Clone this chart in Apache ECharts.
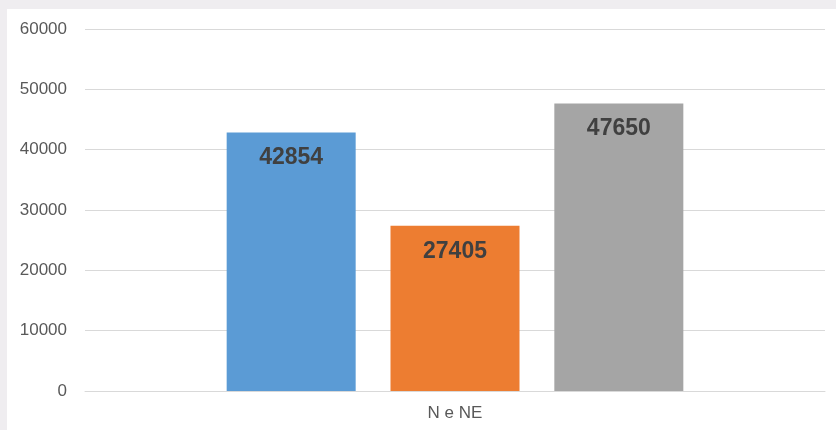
<!DOCTYPE html>
<html>
<head>
<meta charset="utf-8">
<script src="https://cdn.jsdelivr.net/npm/echarts@6/dist/echarts.min.js"></script>
<style>
html,body{margin:0;padding:0;background:#efedf0;}
#wrap{position:relative;width:836px;height:430px;background:#efedf0;overflow:hidden;}
#paper{position:absolute;left:7px;top:9px;right:0;bottom:0;background:#ffffff;}
#c{position:absolute;left:0;top:0;width:836px;height:430px;}
</style>
</head>
<body>
<div id="wrap"><div id="paper"></div><div id="c"></div></div>
<script>
const categories = ['N e NE'];
const seriesNames = ['Série 1', 'Série 2', 'Série 3'];
const seriesValues = [[42854], [27405], [47650]];
const seriesColors = ['#5b9bd5', '#ed7d31', '#a5a5a5'];
const yTicks = { min: 0, max: 60000, interval: 10000 };

const chart = echarts.init(document.getElementById('c'), null, { renderer: 'canvas' });
chart.setOption({
  backgroundColor: 'transparent',
  animation: false,
  grid: { left: 85, right: 11, top: 29, bottom: 39 },
  xAxis: {
    type: 'category',
    data: categories,
    axisLine: { lineStyle: { color: '#d9d9d9', width: 1 } },
    axisTick: { show: false },
    axisLabel: { color: '#595959', fontSize: 17, fontFamily: 'Liberation Sans', margin: 14 }
  },
  yAxis: {
    type: 'value',
    min: yTicks.min, max: yTicks.max, interval: yTicks.interval,
    axisLine: { show: false },
    axisTick: { show: false },
    splitLine: { lineStyle: { color: '#d9d9d9', width: 1 } },
    axisLabel: {
      color: '#595959', fontSize: 17, fontFamily: 'Liberation Sans', margin: 18,
      formatter: v => String(v)
    }
  },
  series: seriesNames.map((name, i) => ({
    name: name,
    type: 'bar',
    data: seriesValues[i],
    barWidth: 129,
    barGap: '27%',
    itemStyle: { color: seriesColors[i] },
    label: {
      show: true,
      position: 'insideTop',
      distance: 14,
      color: '#404040',
      fontSize: 23,
      fontWeight: 'bold',
      fontFamily: 'Liberation Sans'
    }
  }))
});
</script>
</body>
</html>
